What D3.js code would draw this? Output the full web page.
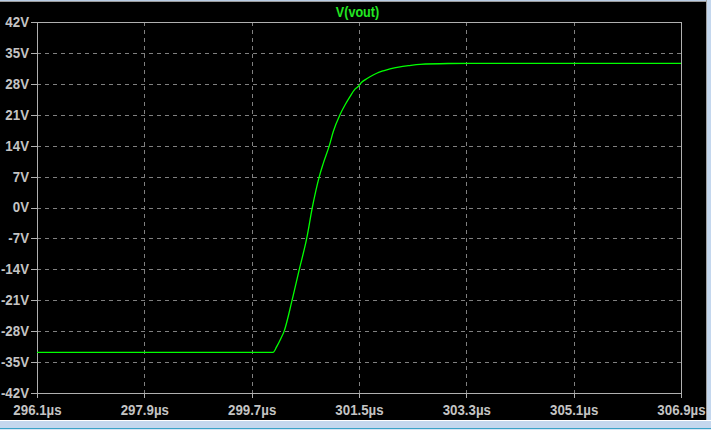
<!DOCTYPE html>
<html><head><meta charset="utf-8">
<script src="https://cdn.jsdelivr.net/npm/d3@7"></script>
<style>html,body{margin:0;padding:0;background:#000;overflow:hidden}</style>
</head><body><svg id="c" width="711" height="430"></svg>
<script>
// time in microseconds
const timeUs = [296.1, 300.058, 300.12, 300.192, 300.242, 300.376, 300.499, 300.623, 300.717, 300.834, 300.901, 301.002, 301.069, 301.181, 301.265, 301.349, 301.433, 301.488, 301.545, 301.6, 301.684, 301.797, 301.908, 302.02, 302.188, 302.327, 302.523, 302.993, 303.53, 306.9];
// V(vout) in volts
const vout = [-32.8, -32.8, -31.5, -29.6, -28.1, -21.1, -14.0, -7.0, 0.0, 7.0, 10.0, 14.0, 17.2, 21.0, 23.2, 25.1, 26.8, 27.4, 28.35, 28.9, 29.6, 30.4, 30.95, 31.4, 31.85, 32.1, 32.4, 32.6, 32.65, 32.65];
const xTickValues = [296.1, 297.9, 299.7, 301.5, 303.3, 305.1, 306.9];
const xTickLabels = ["296.1µs", "297.9µs", "299.7µs", "301.5µs", "303.3µs", "305.1µs", "306.9µs"];
const yTickValues = [-42, -35, -28, -21, -14, -7, 0, 7, 14, 21, 28, 35, 42];
const yTickLabels = ["-42V", "-35V", "-28V", "-21V", "-14V", "-7V", "0V", "7V", "14V", "21V", "28V", "35V", "42V"];
const traceName = "V(vout)";

const svg = d3.select("#c");
const W = 711, H = 430;
const L = 37, R = 681, T = 22, B = 393;
const font = "'Liberation Sans',Arial,sans-serif";
const labelColor = "#c4c4c4";
const sx = 0.95;

// window chrome
svg.append("rect").attr("x", 0).attr("y", 0).attr("width", W).attr("height", H).attr("fill", "#000");
svg.append("rect").attr("x", 0).attr("y", 0).attr("width", W).attr("height", 1).attr("fill", "#b9cde5");
svg.append("rect").attr("x", 0).attr("y", 1).attr("width", W).attr("height", 1).attr("fill", "#9a9a9a");
svg.append("rect").attr("x", 706).attr("y", 0).attr("width", 1).attr("height", 420).attr("fill", "#a0a0a0");
svg.append("rect").attr("x", 707).attr("y", 0).attr("width", 4).attr("height", H).attr("fill", "#c4d7ee");
svg.append("rect").attr("x", 0).attr("y", 420).attr("width", W).attr("height", 1).attr("fill", "#ffffff");
svg.append("rect").attr("x", 0).attr("y", 421).attr("width", W).attr("height", 7).attr("fill", "#c4d7ee");
svg.append("rect").attr("x", 0).attr("y", 428).attr("width", W).attr("height", 1).attr("fill", "#3aa3c8");
svg.append("rect").attr("x", 0).attr("y", 429).attr("width", W).attr("height", 1).attr("fill", "#d8e6f4");

const x = d3.scaleLinear().domain([296.1, 306.9]).range([L, R]);
const y = d3.scaleLinear().domain([-42, 42]).range([B, T]);

// grid
const g = svg.append("g").attr("shape-rendering", "crispEdges");
g.selectAll(".hg").data(yTickValues.slice(1, -1)).join("line")
  .attr("x1", L).attr("x2", R).attr("y1", d => Math.round(y(d)) + 0.5).attr("y2", d => Math.round(y(d)) + 0.5)
  .attr("stroke", "#808080").attr("stroke-dasharray", "4,4");
g.selectAll(".vg").data(xTickValues.slice(1, -1)).join("line")
  .attr("y1", T).attr("y2", B).attr("x1", d => Math.round(x(d)) + 0.5).attr("x2", d => Math.round(x(d)) + 0.5)
  .attr("stroke", "#808080").attr("stroke-dasharray", "4,4");

// axes
const yAxis = d3.axisLeft(y).tickValues(yTickValues).tickSize(7).tickPadding(1)
  .tickFormat((d, i) => yTickLabels[i]);
const ya = svg.append("g").attr("transform", `translate(${L + 0.5},0)`).call(yAxis);
const xAxis = d3.axisBottom(x).tickValues(xTickValues).tickSize(4).tickPadding(7.5)
  .tickFormat((d, i) => xTickLabels[i]);
const xa = svg.append("g").attr("transform", `translate(0,${B + 0.5})`).call(xAxis);
[ya, xa].forEach(a => {
  a.select(".domain").remove();
  a.selectAll("line").attr("stroke", "#b0b0b0").attr("shape-rendering", "crispEdges");
  a.selectAll("text").attr("fill", labelColor).attr("font-family", font)
    .attr("font-size", 14).attr("font-weight", "bold")
    .attr("transform", `scale(${sx},1)`);
});
ya.selectAll("text").attr("x", -8.5 / sx);

// frame
svg.append("rect").attr("x", L + 0.5).attr("y", T + 0.5).attr("width", R - L).attr("height", B - T)
  .attr("fill", "none").attr("stroke", "#b0b0b0").attr("shape-rendering", "crispEdges");

// trace
const line = d3.line().x((d, i) => x(timeUs[i])).y(d => y(d)).curve(d3.curveMonotoneX);
svg.append("path").datum(vout).attr("d", line).attr("fill", "none")
  .attr("stroke", "#00ff00").attr("stroke-width", 1.3);

// title
svg.append("text").attr("transform", "translate(357.5,17) scale(0.9,1)").attr("text-anchor", "middle")
  .attr("fill", "#22e822").attr("font-family", font).attr("font-size", 14).attr("font-weight", "bold")
  .text(traceName);
</script></body></html>
